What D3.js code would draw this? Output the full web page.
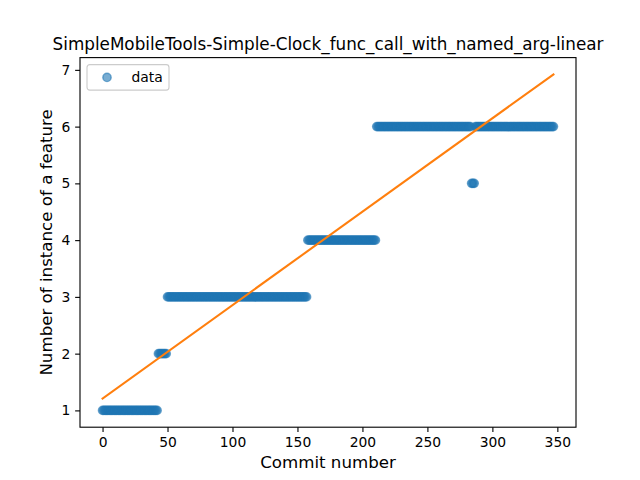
<!DOCTYPE html>
<html>
<head>
<meta charset="utf-8">
<script src="https://cdn.jsdelivr.net/npm/d3@7"></script>
<style>
  html, body { margin: 0; padding: 0; background: #fff; }
  svg text { font-family: "DejaVu Sans", sans-serif; fill: #000; }
</style>
</head>
<body>
<svg id="chart" width="640" height="480"></svg>
<script>
// ---- data ----
const chartTitle = "SimpleMobileTools-Simple-Clock_func_call_with_named_arg-linear";
const xLabel = "Commit number";
const yLabel = "Number of instance of a feature";
const legendLabel = "data";
const xTicks = [0, 50, 100, 150, 200, 250, 300, 350];
const yTicks = [1, 2, 3, 4, 5, 6, 7];
// value of the feature count at each commit (index = commit number)
const featureCounts = [
  1,1,1,1,1,1,1,1,1,1,
  1,1,1,1,1,1,1,1,1,1,
  1,1,1,1,1,1,1,1,1,1,
  1,1,1,1,1,1,1,1,1,1,
  1,1,1,
  2,2,2,2,2,2,2,
  3,3,3,3,3,3,3,3,3,3,
  3,3,3,3,3,3,3,3,3,3,
  3,3,3,3,3,3,3,3,3,3,
  3,3,3,3,3,3,3,3,3,3,
  3,3,3,3,3,3,3,3,3,3,
  3,3,3,3,3,3,3,3,3,3,
  3,3,3,3,3,3,3,3,3,3,
  3,3,3,3,3,3,3,3,3,3,
  3,3,3,3,3,3,3,3,3,3,
  3,3,3,3,3,3,3,3,3,3,
  3,3,3,3,3,3,3,3,
  4,4,4,4,4,4,4,4,4,4,
  4,4,4,4,4,4,4,4,4,4,
  4,4,4,4,4,4,4,4,4,4,
  4,4,4,4,4,4,4,4,4,4,
  4,4,4,4,4,4,4,4,4,4,
  4,4,4,
  6,6,6,6,6,6,6,6,6,6,
  6,6,6,6,6,6,6,6,6,6,
  6,6,6,6,6,6,6,6,6,6,
  6,6,6,6,6,6,6,6,6,6,
  6,6,6,6,6,6,6,6,6,6,
  6,6,6,6,6,6,6,6,6,6,
  6,6,6,6,6,6,6,6,6,6,
  6,6,6,
  5,5,5,
  6,6,6,6,6,6,6,6,6,6,
  6,6,6,6,6,6,6,6,6,6,
  6,6,6,6,6,6,6,6,6,6,
  6,6,6,6,6,6,6,6,6,6,
  6,6,6,6,6,6,6,6,6,6,
  6,6,6,6,6,6,6,6,6,6,
  6
];
// linear fit line end points
const fitX = [0, 347];
const fitY = [1.21, 6.92];

// ---- layout ----
const svg = d3.select("#chart");
const plotLeft = 80, plotRight = 576, plotTop = 57.6, plotBottom = 427.2;

const points = featureCounts.map((v, i) => ({ x: i, y: v }));
const xMin = 0, xMax = points.length - 1;
const xPad = (xMax - xMin) * 0.05;
const yAll = featureCounts.concat(fitY);
const yMin = d3.min(yAll), yMax = d3.max(yAll);
const yPad = (yMax - yMin) * 0.05;

const x = d3.scaleLinear().domain([xMin - xPad, xMax + xPad]).range([plotLeft, plotRight]);
const y = d3.scaleLinear().domain([yMin - yPad, yMax + yPad]).range([plotBottom, plotTop]);

const blue = "#1f77b4", orange = "#ff7f0e";

// points
const g = svg.append("g");
g.selectAll("circle.pt").data(points).enter().append("circle")
  .attr("class", "pt")
  .attr("cx", d => x(d.x)).attr("cy", d => y(d.y))
  .attr("r", 4.17)
  .attr("fill", blue).attr("fill-opacity", 0.6)
  .attr("stroke", blue).attr("stroke-opacity", 0.6).attr("stroke-width", 1.39);

// fit line
const fitData = fitX.map((v, i) => ({ x: v, y: fitY[i] }));
g.append("path").datum(fitData)
  .attr("d", d3.line().x(d => x(d.x)).y(d => y(d.y)))
  .attr("fill", "none").attr("stroke", orange).attr("stroke-width", 2.08)
  .attr("stroke-linecap", "square");

// axes
const xAxis = d3.axisBottom(x).tickValues(xTicks).tickFormat(d3.format("d"))
  .tickSizeOuter(0).tickSize(4.86).tickPadding(4.86);
const yAxis = d3.axisLeft(y).tickValues(yTicks).tickFormat(d3.format("d"))
  .tickSizeOuter(0).tickSize(4.86).tickPadding(4.86);
const gx = svg.append("g").attr("transform", `translate(0,${plotBottom})`).call(xAxis);
const gy = svg.append("g").attr("transform", `translate(${plotLeft},0)`).call(yAxis);
[gx, gy].forEach(a => {
  a.select(".domain").remove();
  a.selectAll(".tick line").attr("stroke", "#000").attr("stroke-width", 1.11);
  a.selectAll(".tick text").attr("font-size", "13.89px").attr("font-family", "DejaVu Sans").attr("fill", "#000");
});

// frame
svg.append("rect").attr("x", plotLeft).attr("y", plotTop)
  .attr("width", plotRight - plotLeft).attr("height", plotBottom - plotTop)
  .attr("fill", "none").attr("stroke", "#000").attr("stroke-width", 1.11);

// title & labels
svg.append("text").attr("x", (plotLeft + plotRight) / 2).attr("y", plotTop - 8)
  .attr("text-anchor", "middle").attr("font-size", "16.8px").text(chartTitle);
svg.append("text").attr("x", (plotLeft + plotRight) / 2).attr("y", 468)
  .attr("text-anchor", "middle").attr("font-size", "16.67px").text(xLabel);
svg.append("text").attr("transform", `translate(52,${(plotTop + plotBottom) / 2}) rotate(-90)`)
  .attr("text-anchor", "middle").attr("font-size", "16.67px").text(yLabel);

// legend
const lg = svg.append("g").attr("transform", `translate(${plotLeft + 7},${plotTop + 7})`);
lg.append("rect").attr("x", 0).attr("y", 0).attr("width", 82).attr("height", 25.5)
  .attr("rx", 2.8).attr("fill", "#fff").attr("fill-opacity", 0.8)
  .attr("stroke", "#cccccc").attr("stroke-width", 1.11);
lg.append("circle").attr("cx", 20).attr("cy", 12.8).attr("r", 4.17)
  .attr("fill", blue).attr("fill-opacity", 0.6)
  .attr("stroke", blue).attr("stroke-opacity", 0.6).attr("stroke-width", 1.39);
lg.append("text").attr("x", 44.5).attr("y", 17.5).attr("font-size", "13.89px").text(legendLabel);
</script>
</body>
</html>
